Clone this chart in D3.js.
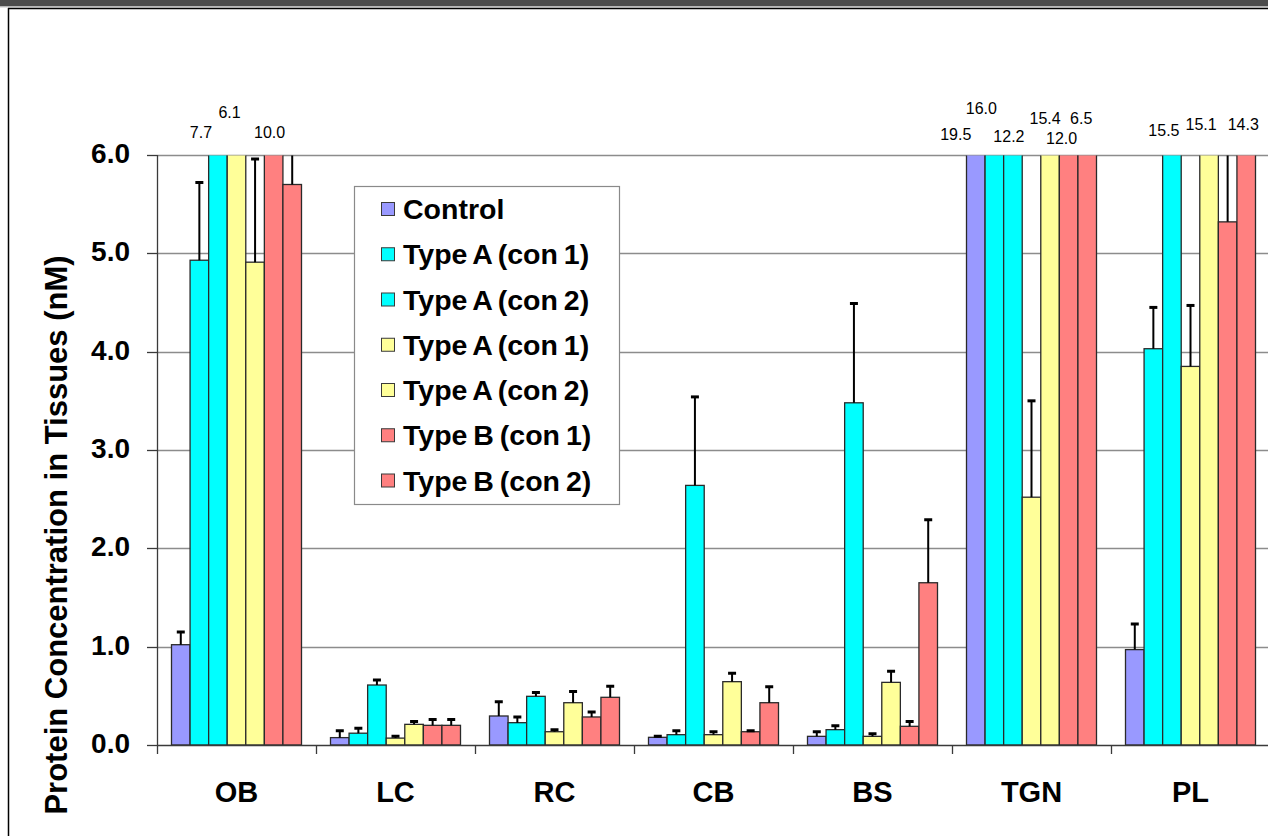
<!DOCTYPE html>
<html>
<head>
<meta charset="utf-8">
<script src="https://cdn.jsdelivr.net/npm/d3@7"></script>
<style>
  html, body { margin: 0; padding: 0; background: #fff; }
  svg { display: block; }
  text { font-family: "Liberation Sans", Arial, Helvetica, sans-serif; }
</style>
</head>
<body>
<svg id="chart" width="1268" height="836"></svg>
<script>
// ---------------- data ----------------
const categories = ["OB", "LC", "RC", "CB", "BS", "TGN", "PL"];
const seriesNames = ["Control", "Type A (con 1)", "Type A (con 2)", "Type A (con 1)", "Type A (con 2)", "Type B (con 1)", "Type B (con 2)"];
const seriesColors = ["#9999FF", "#00FFFF", "#00FFFF", "#FFFF99", "#FFFF99", "#FF8080", "#FF8080"];

const controlValues = [1.02, 0.075, 0.295, 0.078, 0.088, 19.5, 0.97];
const typeA1Values  = [4.93, 0.12, 0.227, 0.105, 0.156, 16.0, 4.03];
const typeA2Values  = [7.7, 0.61, 0.495, 2.64, 3.48, 12.2, 15.5];
const typeA3Values  = [6.1, 0.07, 0.135, 0.105, 0.088, 2.52, 3.85];
const typeA4Values  = [4.91, 0.21, 0.43, 0.644, 0.637, 15.4, 15.1];
const typeB1Values  = [10.0, 0.2, 0.285, 0.135, 0.19, 12.0, 5.32];
const typeB2Values  = [5.70, 0.2, 0.485, 0.43, 1.65, 6.5, 14.3];

const controlErr = [0.13, 0.07, 0.145, 0.012, 0.047, 0, 0.26];
const typeA1Err  = [0.79, 0.05, 0.058, 0.041, 0.041, 0, 0.42];
const typeA2Err  = [0, 0.05, 0.04, 0.90, 1.01, 0, 0];
const typeA3Err  = [0, 0.02, 0.021, 0.03, 0.027, 0.98, 0.62];
const typeA4Err  = [1.05, 0.03, 0.115, 0.086, 0.113, 0, 0];
const typeB1Err  = [0, 0.06, 0.05, 0.01, 0.05, 0, 1.0];
const typeB2Err  = [0.6, 0.06, 0.112, 0.163, 0.64, 0, 0];

const yTicks = [0, 1, 2, 3, 4, 5, 6];
const yMax = 6;
const yTitle = "Protein Concentration in Tissues (nM)";

// label layout for off-scale values (position nudges only)
const labelLayout = {
  "OB-2": [-17, 137.5], "OB-3": [-7, 117.5], "OB-5": [-4, 137.5],
  "TGN-0": [-20, 139.5], "TGN-1": [-13, 113.5], "TGN-2": [-4, 141.5],
  "TGN-4": [-5, 123.5], "TGN-5": [-7, 143.5], "TGN-6": [-6, 123.5],
  "PL-2": [-8, 135.5], "PL-4": [-8, 129.5], "PL-6": [-3, 129.5]
};

const allValues = [controlValues, typeA1Values, typeA2Values, typeA3Values, typeA4Values, typeB1Values, typeB2Values];
const allErrs = [controlErr, typeA1Err, typeA2Err, typeA3Err, typeA4Err, typeB1Err, typeB2Err];

// ---------------- layout ----------------
const svg = d3.select("#chart");
const W = 1268, H = 836;
const plotLeft = 157, plotRight = 1270, plotTop = 155, plotBottom = 745;

// frame
svg.append("rect").attr("x", 0).attr("y", 0).attr("width", W).attr("height", 6.5).attr("fill", "#4b4b4b");
svg.append("line").attr("x1", 0).attr("x2", W).attr("y1", 7).attr("y2", 7).attr("stroke", "#c8c8c8").attr("stroke-width", 1);
svg.append("line").attr("x1", 8).attr("x2", W).attr("y1", 8.5).attr("y2", 8.5).attr("stroke", "#000").attr("stroke-width", 1.5);
svg.append("line").attr("x1", 8.5).attr("x2", 8.5).attr("y1", 8).attr("y2", H).attr("stroke", "#000").attr("stroke-width", 1.5);

const x0 = d3.scaleBand().domain(categories).range([plotLeft, plotRight]).paddingInner(0).paddingOuter(0);
const gap = x0.bandwidth() * 0.0912;
const x1 = d3.scaleBand().domain(d3.range(seriesNames.length)).range([gap, x0.bandwidth() - gap]).padding(0);
const y = d3.scaleLinear().domain([0, yMax]).range([plotBottom, plotTop]);

// gridlines
svg.append("g").selectAll("line").data(yTicks.filter(t => t > 0)).join("line")
  .attr("x1", plotLeft).attr("x2", W)
  .attr("y1", d => Math.round(y(d)) + 0.5).attr("y2", d => Math.round(y(d)) + 0.5)
  .attr("stroke", "#8c8c8c").attr("stroke-width", 1.3);

// clip
svg.append("clipPath").attr("id", "plotclip").append("rect")
  .attr("x", plotLeft).attr("y", plotTop + 0.5).attr("width", W - plotLeft).attr("height", plotBottom - plotTop);

const rows = [];
categories.forEach((c, ci) => {
  seriesNames.forEach((s, si) => {
    rows.push({ cat: c, ci, si, v: allValues[si][ci], e: allErrs[si][ci] });
  });
});

const g = svg.append("g").attr("clip-path", "url(#plotclip)");
g.selectAll("rect.bar").data(rows).join("rect").attr("class", "bar")
  .attr("x", d => x0(d.cat) + x1(d.si))
  .attr("width", x1.bandwidth())
  .attr("y", d => y(d.v))
  .attr("height", d => plotBottom - y(d.v))
  .attr("fill", d => seriesColors[d.si])
  .attr("stroke", "#2a2a2a").attr("stroke-width", 1.3);

// error bars (plus direction)
const eb = rows.filter(d => d.e > 0);
g.selectAll("line.err").data(eb).join("line").attr("class", "err")
  .attr("x1", d => x0(d.cat) + x1(d.si) + x1.bandwidth() / 2)
  .attr("x2", d => x0(d.cat) + x1(d.si) + x1.bandwidth() / 2)
  .attr("y1", d => y(d.v)).attr("y2", d => y(d.v + d.e))
  .attr("stroke", "#000").attr("stroke-width", 2);
g.selectAll("line.cap").data(eb).join("line").attr("class", "cap")
  .attr("x1", d => x0(d.cat) + x1(d.si) + x1.bandwidth() / 2 - 4)
  .attr("x2", d => x0(d.cat) + x1(d.si) + x1.bandwidth() / 2 + 4)
  .attr("y1", d => y(d.v + d.e)).attr("y2", d => y(d.v + d.e))
  .attr("stroke", "#000").attr("stroke-width", 3);

// y axis
svg.append("line").attr("x1", plotLeft + 0.5).attr("x2", plotLeft + 0.5)
  .attr("y1", plotTop).attr("y2", plotBottom + 9).attr("stroke", "#3a3a3a").attr("stroke-width", 1.3);
svg.append("g").selectAll("line").data(yTicks).join("line")
  .attr("x1", plotLeft - 10).attr("x2", plotLeft)
  .attr("y1", d => Math.round(y(d)) + 0.5).attr("y2", d => Math.round(y(d)) + 0.5)
  .attr("stroke", "#3a3a3a").attr("stroke-width", 1.3);
svg.append("g").selectAll("text").data(yTicks).join("text")
  .attr("x", 130).attr("y", d => y(d) + 8)
  .attr("text-anchor", "end").attr("font-size", 28).attr("font-weight", "bold").attr("fill", "#000")
  .text(d => d3.format(".1f")(d));

// x axis
svg.append("line").attr("x1", plotLeft).attr("x2", W)
  .attr("y1", plotBottom + 0.5).attr("y2", plotBottom + 0.5).attr("stroke", "#3a3a3a").attr("stroke-width", 1.3);
svg.append("g").selectAll("line").data(categories.slice(1)).join("line")
  .attr("x1", d => x0(d) + 0.5).attr("x2", d => x0(d) + 0.5)
  .attr("y1", plotBottom).attr("y2", plotBottom + 9)
  .attr("stroke", "#3a3a3a").attr("stroke-width", 1.3);
svg.append("g").selectAll("text").data(categories).join("text")
  .attr("x", d => x0(d) + x0.bandwidth() / 2).attr("y", plotBottom + 57)
  .attr("text-anchor", "middle").attr("font-size", 29).attr("font-weight", "bold").attr("fill", "#000")
  .text(d => d);

// axis title
svg.append("text")
  .attr("transform", "translate(67,535) rotate(-90)")
  .attr("text-anchor", "middle").attr("font-size", 31).attr("font-weight", "bold").attr("fill", "#000")
  .text(yTitle);

// off-scale value labels
const over = rows.filter(d => d.v > yMax);
svg.append("g").selectAll("text").data(over).join("text")
  .attr("x", d => {
    const n = labelLayout[d.cat + "-" + d.si] || [0, 0];
    return x0(d.cat) + x1(d.si) + x1.bandwidth() / 2 + n[0];
  })
  .attr("y", d => (labelLayout[d.cat + "-" + d.si] || [0, 140])[1])
  .attr("text-anchor", "middle").attr("font-size", 16).attr("fill", "#000")
  .text(d => d3.format(".1f")(d.v));

// legend
const lg = svg.append("g");
lg.append("rect").attr("x", 354.5).attr("y", 186.5).attr("width", 265).attr("height", 318)
  .attr("fill", "#fff").attr("stroke", "#8a8a8a").attr("stroke-width", 1.2);
const items = lg.selectAll("g.item").data(seriesNames).join("g").attr("class", "item")
  .attr("transform", (d, i) => `translate(0,${209 + i * 45.25})`);
items.append("rect").attr("x", 381.5).attr("y", -6.5).attr("width", 13).attr("height", 13)
  .attr("fill", (d, i) => seriesColors[i]).attr("stroke", "#3a3a3a").attr("stroke-width", 1);
items.append("text").attr("x", 403).attr("y", 10)
  .attr("font-size", 28.5).attr("font-weight", "bold").attr("fill", "#000")
  .attr("word-spacing", -2)
  .text(d => d);
</script>
</body>
</html>
